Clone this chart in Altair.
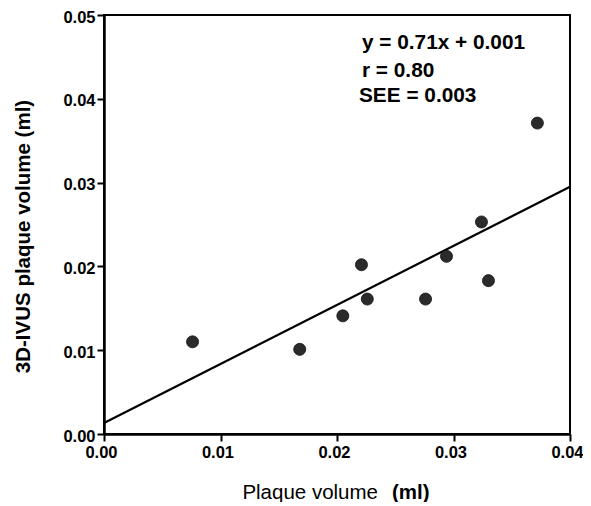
import altair as alt
import pandas as pd

# Data
plaque_volume = [0.0076, 0.0168, 0.0205, 0.0221, 0.0226, 0.0276, 0.0294, 0.0330, 0.0324, 0.0372]
ivus_volume = [0.0110, 0.0101, 0.0141, 0.0202, 0.0161, 0.0161, 0.0212, 0.0183, 0.0253, 0.0371]
fit_x = [0.0, 0.04]
fit_y = [0.0013, 0.0295]
annotation_lines = ["y = 0.71x + 0.001", "r = 0.80", "SEE = 0.003"]
x_ticks = [0.0, 0.01, 0.02, 0.03, 0.04]
y_ticks = [0.0, 0.01, 0.02, 0.03, 0.04, 0.05]

pts = pd.DataFrame({"x": plaque_volume, "y": ivus_volume})
fit = pd.DataFrame({"x": fit_x, "y": fit_y})

FONT = "Liberation Sans"
W, H = 466, 419

xscale = alt.Scale(domain=[0, 0.04], nice=False, zero=True)
yscale = alt.Scale(domain=[0, 0.05], nice=False, zero=True)

common = dict(labelFont=FONT, labelFontSize=16.5, labelFontWeight="bold", labelColor="black",
              domainColor="black", domainWidth=2.5, tickColor="black", tickWidth=2,
              tickSize=7, grid=False, format=".2f", labelFlush=False, labelOverlap=False)

xaxis = alt.Axis(values=x_ticks, title=None, labelPadding=3, labelOffset=-3, **common)
yaxis = alt.Axis(values=y_ticks, title="3D-IVUS plaque volume (ml)",
                 labelPadding=2, labelOffset=2, titleX=-71, titleY=221, titleFontSize=20.5,
                 titleFontWeight="bold", titleFont=FONT, titleColor="black", **common)

line = alt.Chart(fit).mark_line(color="black", strokeWidth=2.2).encode(
    x=alt.X("x:Q", scale=xscale, axis=xaxis),
    y=alt.Y("y:Q", scale=yscale, axis=yaxis),
)

points = alt.Chart(pts).mark_circle(size=145, color="#2b2b2b", opacity=1,
                                    stroke="#111", strokeWidth=0.8).encode(
    x=alt.X("x:Q", scale=xscale),
    y=alt.Y("y:Q", scale=yscale),
)

def text_layer(s, x, y, weight, size, align="left"):
    return alt.Chart(pd.DataFrame({"t": [s]})).mark_text(
        font=FONT, fontSize=size, fontWeight=weight, align=align,
        baseline="alphabetic", color="black"
    ).encode(text="t:N", x=alt.value(x), y=alt.value(y))

ann1 = text_layer(annotation_lines[0], 258, 34, "bold", 20.8)
ann2 = text_layer(annotation_lines[1], 258, 62, "bold", 20.8)
ann3 = text_layer(annotation_lines[2], 255, 87, "bold", 20.8)
xt1 = text_layer("Plaque volume", 274, 484, "normal", 20.5, align="right")
xt2 = text_layer("(ml)", 288, 484, "bold", 20.5)

chart = alt.layer(line, points, ann1, ann2, ann3, xt1, xt2).properties(
    width=W, height=H,
    autosize=alt.AutoSizeParams(type="none"),
    padding={"left": 96, "top": 7, "right": 13, "bottom": 68},
    background="white",
).configure_view(
    stroke="black", strokeWidth=2
)

chart.save("out.html", embed_options={"renderer": "svg", "actions": False})
